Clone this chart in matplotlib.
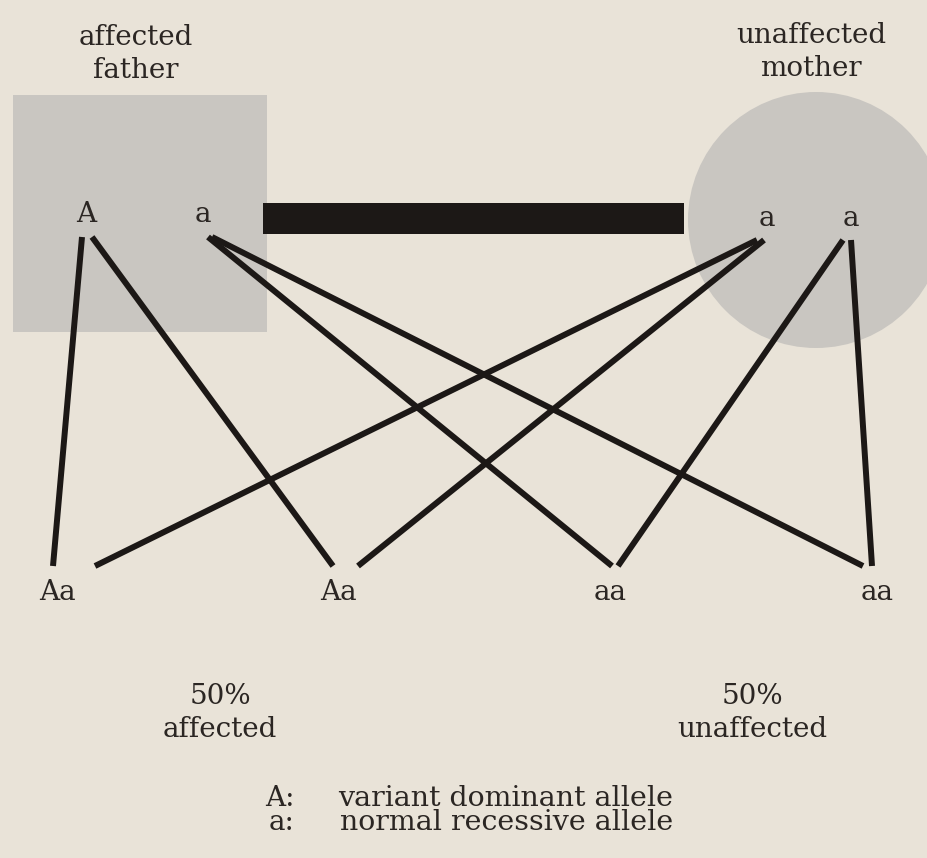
import matplotlib
matplotlib.use("Agg")
import matplotlib.pyplot as plt
from matplotlib.patches import Rectangle, Circle

# --- data ---
parent_titles = ["affected\nfather", "unaffected\nmother"]
father_alleles = ["A", "a"]
mother_alleles = ["a", "a"]
child_genotypes = ["Aa", "Aa", "aa", "aa"]
# which father / mother allele feeds each child line (as drawn)
child_father = [0, 0, 1, 1]
child_mother = [0, 0, 1, 1]
outcome_pct = [50, 50]
outcome_labels = ["affected", "unaffected"]
legend_keys = ["A:", "a:"]
legend_text = ["variant dominant allele", "normal recessive allele"]

# --- layout (pixel space, y down) ---
W, H = 927, 858
BG = "#e9e3d8"
SHAPE = "#c9c6c1"
INK = "#1c1816"
TXT = "#2b2623"
FONT = "DejaVu Serif"

father_x = [86, 203]
mother_x = [767, 851]
allele_y = 214
father_exit = [(82, 92), (208, 212)]   # line start x per allele (left, right)
mother_exit = [(757, 764), (843, 851)]
exit_y = [237, 237]
child_x = [57, 338, 610, 877]
child_in_f = [53, 333, 612, 863]   # where father lines land
child_in_m = [95, 358, 618, 872]   # where mother lines land
child_top = 566

fig = plt.figure(figsize=(W / 100, H / 100), dpi=100, facecolor=BG)
ax = fig.add_axes([0, 0, 1, 1])
ax.set_xlim(0, W)
ax.set_ylim(H, 0)
ax.set_facecolor(BG)
ax.axis("off")

# parents
ax.add_patch(Rectangle((13, 95), 254, 237, facecolor=SHAPE, edgecolor="none"))
ax.add_patch(Circle((816, 220), 128, facecolor=SHAPE, edgecolor="none"))
ax.add_patch(Rectangle((263, 203), 421, 31, facecolor=INK, edgecolor="none"))

ax.text(136, 54, parent_titles[0], ha="center", va="center", fontsize=20,
        family=FONT, color=TXT, linespacing=1.3)
ax.text(811, 52, parent_titles[1], ha="center", va="center", fontsize=20,
        family=FONT, color=TXT, linespacing=1.3)

for x, lab in zip(father_x, father_alleles):
    ax.text(x, allele_y, lab, ha="center", va="center", fontsize=20, family=FONT, color=TXT)
for x, lab in zip(mother_x, mother_alleles):
    ax.text(x, allele_y + 4, lab, ha="center", va="center", fontsize=20, family=FONT, color=TXT)

# inheritance lines
seen_f, seen_m = {}, {}
for i, (fi, mi) in enumerate(zip(child_father, child_mother)):
    kf = seen_f.get(fi, 0)
    seen_f[fi] = kf + 1
    km = seen_m.get(mi, 0)
    seen_m[mi] = km + 1
    ax.plot([father_exit[fi][kf], child_in_f[i]], [exit_y[0], child_top],
            color=INK, lw=4.3, solid_capstyle="butt")
    ax.plot([mother_exit[mi][km], child_in_m[i]], [exit_y[1] + 3, child_top],
            color=INK, lw=4.3, solid_capstyle="butt")

for x, g in zip(child_x, child_genotypes):
    ax.text(x, 593, g, ha="center", va="center", fontsize=20, family=FONT, color=TXT)

# outcomes
for x, p, lab in zip([220, 752], outcome_pct, outcome_labels):
    ax.text(x, 713, f"{p}%\n{lab}", ha="center", va="center", fontsize=20,
            family=FONT, color=TXT, linespacing=1.3)

# key
for j, (k, t) in enumerate(zip(legend_keys, legend_text)):
    y = 798 + j * 25
    ax.text(295, y, k, ha="right", va="center", fontsize=20, family=FONT, color=TXT)
    ax.text(673, y, t, ha="right", va="center", fontsize=20.5, family=FONT, color=TXT)

fig.savefig("out.png", dpi=100, facecolor=BG)
